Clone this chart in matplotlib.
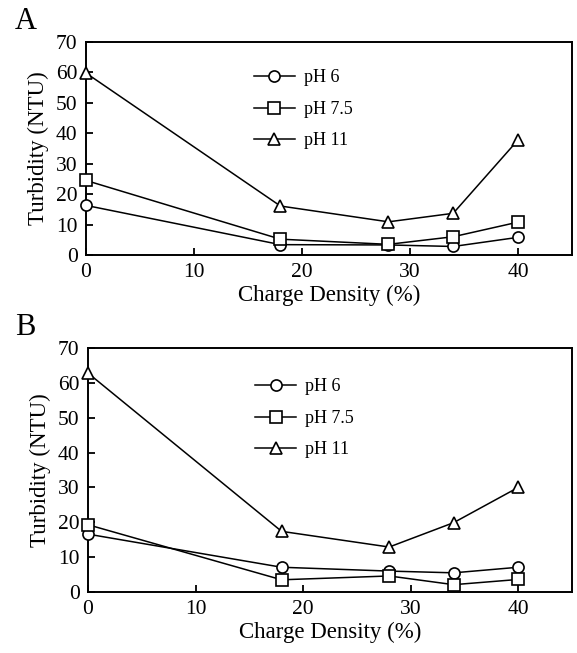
import matplotlib
matplotlib.use("Agg")
import matplotlib.pyplot as plt

plt.rc('font', family=['Liberation Serif', 'DejaVu Serif'], size=15.5)
plt.rc('xtick', direction='in', labelsize=15.5)
plt.rc('ytick', direction='in', labelsize=15.5)

charge_density = [0, 18, 28, 34, 40]

# panel A
a_ph6 = [16.3, 3.4, 3.3, 2.8, 5.8]
a_ph75 = [24.5, 5.2, 3.5, 6.0, 10.8]
a_ph11 = [59.8, 16.1, 10.9, 13.7, 37.8]

# panel B
b_ph6 = [16.6, 7.1, 6.0, 5.5, 7.1]
b_ph75 = [19.3, 3.5, 4.6, 2.1, 3.6]
b_ph11 = [62.8, 17.4, 12.9, 19.9, 30.0]

labels = ['pH 6', 'pH 7.5', 'pH 11']
markers = ['o', 's', '^']

fig = plt.figure(figsize=(5.77, 6.53), dpi=100)
W, H = 577, 653
ax_a = fig.add_axes([86 / W, 1 - 255 / H, 486 / W, 213 / H])
ax_b = fig.add_axes([88 / W, 1 - 592 / H, 484 / W, 244 / H])

for ax, series, letter in [(ax_a, [a_ph6, a_ph75, a_ph11], 'A'),
                           (ax_b, [b_ph6, b_ph75, b_ph11], 'B')]:
    for vals, lab, m in zip(series, labels, markers):
        ax.plot(charge_density, vals, color='black', lw=1.1, marker=m,
                markersize=8, markerfacecolor='white', markeredgecolor='black',
                markeredgewidth=1.2, label=lab, clip_on=False, zorder=3)
    ax.set_xlim(0, 45)
    ax.set_ylim(0, 70)
    ax.set_xticks([0, 10, 20, 30, 40])
    ax.set_yticks(range(0, 71, 10))
    ax.tick_params(length=5, width=1.3, pad=6)
    for s in ax.spines.values():
        s.set_linewidth(1.4)
    ax.set_xlabel('Charge Density (%)', fontsize=16.5, labelpad=2)
    ax.set_ylabel('Turbidity (NTU)', fontsize=16.5, labelpad=5)
    ax.legend(loc='upper left', bbox_to_anchor=(0.33, 0.905), frameon=False,
              fontsize=13, handlelength=2.3, handletextpad=0.5,
              labelspacing=0.8, borderaxespad=0)
    pos = ax.get_position()
    fig.text(15 / W, pos.y1 + 6 / H, letter, fontsize=22, ha='left', va='bottom')

fig.savefig('out.png', dpi=100)
